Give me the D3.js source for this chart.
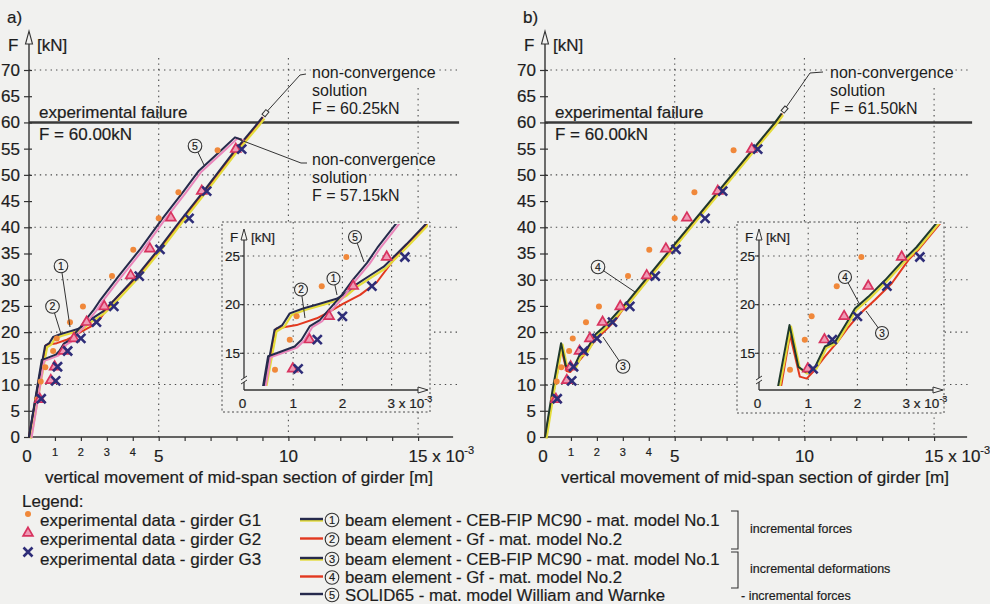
<!DOCTYPE html>
<meta charset="utf-8">
<style>

html, body {
  margin: 0;
  background: #f1f1ef;
}

svg {
  display: block;
  font-family: "Liberation Sans", Arial, sans-serif;
}

text {
  fill: #1d1d1d;
  stroke: #1d1d1d;
  stroke-width: 0.2px;
}

.grid line {
  stroke: #4a4a4a;
  stroke-width: 1.1;
  stroke-dasharray: 1.4,4;
}

.knock {
  paint-order: stroke;
  stroke: #f1f1ef;
  stroke-width: 5px;
  stroke-linejoin: round;
}

</style>
<svg width="990" height="604"></svg>
<script src="https://d3js.org/d3.v7.min.js"></script>
<script>

var bg = '#f1f1ef';
var navy = '#262a4c';
var dkgreen = '#1f3a2c';
var red = '#e2381f';
var yellow = '#e4dc3a';
var pink = '#ea86bb';
var orange = '#f0883a';

// axis values
var yTickVals = [0, 5, 10, 15, 20, 25, 30, 35, 40, 45, 50, 55, 60, 65, 70];
var yGridVals = [10, 20, 30, 40, 50, 70];
var xTickVals = [1, 2, 3, 4, 5, 6, 7, 8, 9, 10, 11, 12, 13, 14, 15];
var xMajorVals = [0, 5, 10];
var xMinorVals = [1, 2, 3, 4];
var xGridVals = [5, 10, 15];
var insetXVals = [1, 2, 3];
var insetYVals = [15, 20, 25];
var failureF = 60;

// experimental data [deflection x 10^-3 m, F kN]
var g1 = [[0.32, 7.2], [0.45, 10.6], [0.63, 13.3], [0.93, 16.4], [1.07, 18.8], [1.58, 21.9],
  [2.08, 24.9], [3.2, 30.7], [4.02, 35.7], [5.0, 41.7], [5.76, 46.7], [7.27, 54.7]];
var g2 = [[0.42, 7.2], [0.84, 10.8], [0.99, 13.4], [1.33, 16.4], [1.73, 18.8], [2.22, 21.9],
  [2.9, 24.9], [3.92, 30.8], [4.66, 35.9], [5.47, 41.8], [6.66, 46.9], [7.97, 54.9]];
var g3 = [[0.47, 7.3], [1.03, 10.7], [1.1, 13.4], [1.49, 16.4], [2.0, 18.8], [2.6, 21.9],
  [3.27, 24.9], [4.25, 30.7], [5.05, 35.8], [6.17, 41.7], [6.85, 46.9], [8.2, 54.9]];

// a) incremental forces
var curve1 = [[0, 0], [0.3, 8.6], [0.62, 17.4], [0.78, 17.9], [0.93, 19.1], [1.2, 19.6], [1.54, 20.1],
  [1.88, 20.6], [2.05, 21.1], [2.26, 22.0], [2.56, 23.0], [2.84, 23.9], [3.3, 26.2], [4.15, 30.7],
  [4.99, 35.8], [5.82, 41.2], [6.72, 46.8], [7.88, 54.3], [8.84, 60.0], [9.0, 61.0]];
var curve2 = [[0, 0], [0.3, 8.4], [0.42, 11.9], [0.66, 17.56], [1.07, 17.9], [1.48, 18.6], [1.75, 19.3],
  [2.02, 20.1], [2.36, 21.0], [2.7, 22.3], [3.04, 24.6], [3.24, 25.85], [4.2, 30.7], [5.05, 35.8],
  [6.76, 46.8], [8.9, 60.2], [9.02, 61.0]];
var curve5 = [[0, 0], [0.25, 7.5], [0.49, 14.7], [0.66, 15.0], [1.03, 15.7], [1.17, 16.4], [1.34, 17.8],
  [1.54, 18.4], [1.78, 19.8], [1.99, 21.0], [2.22, 22.6], [2.5, 24.3], [2.71, 25.85], [3.44, 30.6],
  [4.28, 35.8], [5.15, 41.7], [5.95, 46.8], [6.55, 50.8], [7.43, 54.8], [7.94, 57.15], [8.2, 56.7]];

// b) incremental deformations
var curve3 = [[0, 0], [0.3, 9.2], [0.62, 17.9], [0.8, 13.6], [0.94, 13.1], [1.14, 13.6], [1.34, 15.7],
  [1.55, 16.2], [1.8, 18.3], [1.95, 19.6], [2.22, 20.8], [2.56, 22.5], [2.9, 24.4], [3.2, 25.9],
  [3.97, 30.6], [4.85, 35.9], [5.8, 41.6], [6.75, 47.3], [7.95, 54.5], [8.87, 60.0], [9.12, 61.7]];
var curve4 = [[0, 0], [0.3, 7.8], [0.46, 11.9], [0.63, 16.9], [0.83, 12.6], [0.97, 12.4], [1.1, 13.1],
  [1.34, 14.66], [1.6, 16.2], [1.82, 17.7], [2.02, 18.9], [2.36, 20.5], [2.7, 22.2], [3.04, 24.6],
  [3.25, 25.7], [4.05, 30.6], [4.92, 35.9], [5.85, 41.6], [6.8, 47.3], [8.0, 54.5], [8.9, 60.0], [9.15, 61.7]];

var svg = d3.select('svg');

var panels = [
  {
    letter: 'a)', x0: 29, gridExtra: 39, axisExtra: 35,
    curves: [
      {data: curve2, color: red, w: 2},
      {data: curve1, color: yellow, w: 2.2, dx: 2, dy: 1.5},
      {data: curve1, color: navy, w: 2},
      {data: curve5, color: pink, w: 2, dx: 2.5, dy: 1},
      {data: curve5, color: navy, w: 2}
    ],
    notes: [
      {at: curve1[curve1.length - 1], off: [3, -4], mark: true, path: [[300, 75], [306, 74]], tx: 312, ty: [72, 90, 108],
        lines: ['non-convergence', 'solution', 'F = 60.25kN']},
      {at: curve5[curve5.length - 2], off: [4, 2], mark: false, path: [[301, 163], [307, 163]], tx: 312, ty: [159, 177, 195],
        lines: ['non-convergence', 'solution', 'F = 57.15kN']}
    ],
    tags: [
      {n: '1', c: [61, 266], to: [70, 327]},
      {n: '2', c: [52.5, 306.5], to: [61, 334]},
      {n: '5', c: [195, 146], to: [204, 165]}
    ],
    inset: {
      box: {x: 222, y: 222, w: 208, h: 190}, ix0: 244, tip: 428,
      tags: [
        {n: '5', c: [355, 237], to: [364, 262]},
        {n: '1', c: [333.5, 278.5], to: [337, 295]},
        {n: '2', c: [301, 289.5], to: [305, 318]}
      ]
    }
  },
  {
    letter: 'b)', x0: 545, gridExtra: 36, axisExtra: 33,
    curves: [
      {data: curve4, color: red, w: 2},
      {data: curve3, color: yellow, w: 2.2, dx: 1.5, dy: 1.5},
      {data: curve3, color: dkgreen, w: 2}
    ],
    notes: [
      {at: curve3[curve3.length - 1], off: [3, -4], mark: true, path: [[810, 73], [823, 72]], tx: 830, ty: [72, 90, 108],
        lines: ['non-convergence', 'solution', 'F = 61.50kN']}
    ],
    tags: [
      {n: '4', c: [598, 267], to: [635, 292]},
      {n: '3', c: [623, 366.5], to: [603, 337]}
    ],
    inset: {
      box: {x: 737, y: 222, w: 207, h: 191}, ix0: 759, tip: 943,
      tags: [
        {n: '4', c: [845, 277], to: [860, 305]},
        {n: '3', c: [882, 333], to: [866, 311]}
      ]
    }
  }
];

function drawMarkers (g, x, y, keep) {
  var f = keep || function () { return true; };
  g.append('g').selectAll('circle')
    .data(g1.filter(f))
    .enter().append('circle')
    .attr('cx', function (d) { return x(d[0]); })
    .attr('cy', function (d) { return y(d[1]); })
    .attr('r', 3)
    .attr('fill', orange);
  g.append('g').selectAll('path')
    .data(g2.filter(f))
    .enter().append('path')
    .attr('d', d3.symbol(d3.symbolTriangle).size(42))
    .attr('transform', function (d) { return 'translate(' + x(d[0]) + ',' + y(d[1]) + ')'; })
    .attr('fill', '#ef9ab5')
    .attr('stroke', '#d8335f')
    .attr('stroke-width', 1.7);
  g.append('g').selectAll('path')
    .data(g3.filter(f))
    .enter().append('path')
    .attr('d', 'M-4.5,-4.5L4.5,4.5M-4.5,4.5L4.5,-4.5')
    .attr('transform', function (d) { return 'translate(' + x(d[0]) + ',' + y(d[1]) + ')'; })
    .attr('stroke', '#2e2d78')
    .attr('stroke-width', 2.6);
}

function drawCurves (g, x, y, curves) {
  var line = d3.line()
    .x(function (d) { return x(d[0]); })
    .y(function (d) { return y(d[1]); });
  curves.forEach(function (c) {
    g.append('path')
      .attr('d', line(c.data))
      .attr('fill', 'none')
      .attr('stroke', c.color)
      .attr('stroke-width', c.w)
      .attr('stroke-linejoin', 'round')
      .attr('transform', c.dx ? 'translate(' + c.dx + ',' + c.dy + ')' : null);
  });
}

function drawTag (g, t, r, fs) {
  g.append('line')
    .attr('x1', t.c[0]).attr('y1', t.c[1])
    .attr('x2', t.to[0]).attr('y2', t.to[1])
    .attr('stroke', '#333').attr('stroke-width', 1);
  drawCircled(g, t.c[0], t.c[1], t.n, r, fs);
}

function drawCircled (g, cx, cy, n, r, fs) {
  g.append('circle')
    .attr('cx', cx).attr('cy', cy).attr('r', r)
    .attr('fill', bg).attr('stroke', '#333').attr('stroke-width', 1.1);
  g.append('text')
    .attr('x', cx).attr('y', cy).attr('dy', '0.36em')
    .attr('text-anchor', 'middle')
    .attr('font-size', fs)
    .text(n);
}

function drawMain (p) {
  var x = d3.scaleLinear().domain([0, 15]).range([p.x0, p.x0 + 389.1]);
  var y = d3.scaleLinear().domain([0, 70]).range([437, 70]);
  var g = svg.append('g');

  g.append('g').attr('class', 'grid').selectAll('line')
    .data(yGridVals)
    .enter().append('line')
    .attr('x1', x(0)).attr('x2', x(15) + p.gridExtra)
    .attr('y1', function (d) { return y(d); })
    .attr('y2', function (d) { return y(d); });

  g.append('g').attr('class', 'grid').selectAll('line')
    .data(xGridVals)
    .enter().append('line')
    .attr('x1', function (d) { return x(d); })
    .attr('x2', function (d) { return x(d); })
    .attr('y1', function (d) { return d === 15 ? 88 : 58; })
    .attr('y2', y(0));

  g.append('line')
    .attr('x1', x(0)).attr('x2', x(15) + p.gridExtra + 2)
    .attr('y1', y(failureF)).attr('y2', y(failureF))
    .attr('stroke', '#3a3a3a').attr('stroke-width', 2.6);

  // y axis
  var ya = g.append('g')
    .attr('transform', 'translate(' + x(0) + ',0)')
    .attr('color', '#1d1d1d')
    .call(d3.axisLeft(y).tickValues(yTickVals).tickSize(5).tickPadding(4));
  ya.attr('font-size', 17).attr('font-family', null);
  ya.select('.domain').remove();
  ya.selectAll('.tick line').attr('x1', 3).attr('stroke', '#333').attr('stroke-width', 1.2);

  g.append('line')
    .attr('x1', x(0)).attr('x2', x(0))
    .attr('y1', y(0)).attr('y2', 44)
    .attr('stroke', '#333').attr('stroke-width', 1.4);
  g.append('path')
    .attr('d', 'M' + (x(0) - 3.5) + ',44L' + x(0) + ',31L' + (x(0) + 3.5) + ',44Z')
    .attr('fill', bg).attr('stroke', '#333').attr('stroke-width', 1.1);

  // x axis
  var xa = g.append('g')
    .attr('transform', 'translate(0,' + y(0) + ')')
    .call(d3.axisBottom(x).tickValues(xTickVals).tickSize(4).tickFormat(''));
  xa.select('.domain').remove();
  xa.selectAll('.tick line').attr('stroke', '#333').attr('stroke-width', 1.2);
  g.append('line')
    .attr('x1', x(0)).attr('x2', x(15) + p.axisExtra)
    .attr('y1', y(0)).attr('y2', y(0))
    .attr('stroke', '#333').attr('stroke-width', 1.4);

  g.append('g').selectAll('text')
    .data(xMajorVals)
    .enter().append('text')
    .attr('x', function (d) { return x(d) + (d === 0 ? -2 : 0); })
    .attr('y', 456).attr('dy', '0.35em')
    .attr('text-anchor', 'middle')
    .attr('font-size', 17)
    .text(function (d) { return d; });
  g.append('g').selectAll('text')
    .data(xMinorVals)
    .enter().append('text')
    .attr('x', function (d) { return x(d); })
    .attr('y', 452).attr('dy', '0.35em')
    .attr('text-anchor', 'middle')
    .attr('font-size', 11)
    .text(function (d) { return d; });
  var t15 = g.append('text')
    .attr('x', x(15) - 9.5).attr('y', 456).attr('dy', '0.35em')
    .attr('font-size', 17);
  t15.append('tspan').text('15 x 10');
  t15.append('tspan').attr('font-size', 11).attr('dy', -8).text('-3');

  g.append('text')
    .attr('x', x(0) + 16).attr('y', 477).attr('dy', '0.35em')
    .attr('font-size', 17)
    .attr('textLength', 388).attr('lengthAdjust', 'spacingAndGlyphs')
    .text('vertical movement of mid-span section of girder [m]');

  // axis titles
  g.append('text').attr('x', x(0) - 22).attr('y', 17).attr('dy', '0.35em').attr('font-size', 17).text(p.letter);
  g.append('text').attr('x', x(0) - 21).attr('y', 45).attr('dy', '0.35em').attr('font-size', 17).text('F');
  g.append('text').attr('x', x(0) + 8).attr('y', 45).attr('dy', '0.35em').attr('font-size', 17).text('[kN]');

  g.append('text').attr('x', x(0) + 10).attr('y', 112).attr('dy', '0.35em').attr('font-size', 17)
    .text('experimental failure');
  g.append('text').attr('x', x(0) + 10).attr('y', 134).attr('dy', '0.35em').attr('font-size', 17)
    .text('F = 60.00kN');

  drawCurves(g, x, y, p.curves);
  drawMarkers(g, x, y);

  // non-convergence notes
  p.notes.forEach(function (n) {
    var sx = x(n.at[0]) + n.off[0];
    var sy = y(n.at[1]) + n.off[1];
    var pts = [[sx, sy]].concat(n.path);
    g.append('path')
      .attr('d', d3.line()(pts))
      .attr('fill', 'none').attr('stroke', '#333').attr('stroke-width', 1);
    if (n.mark) {
      g.append('rect')
        .attr('x', -3).attr('y', -2).attr('width', 6).attr('height', 4)
        .attr('transform', 'translate(' + sx + ',' + sy + ') rotate(-50)')
        .attr('fill', bg).attr('stroke', '#333').attr('stroke-width', 1);
    }
    n.lines.forEach(function (s, i) {
      g.append('text')
        .attr('class', 'knock')
        .attr('x', n.tx).attr('y', n.ty[i]).attr('dy', '0.35em')
        .attr('font-size', 16)
        .text(s);
    });
  });

  p.tags.forEach(function (t) { drawTag(g, t, 6.8, 10.5); });

  drawInset(p, p.inset);
}

function drawInset (p, s) {
  var b = s.box;
  var x = d3.scaleLinear().domain([0, 3]).range([s.ix0, s.ix0 + 147.6]);
  var y = d3.scaleLinear().domain([15, 25]).range([353.3, 256]);
  var axisY = 390;
  var g = svg.append('g');

  g.append('rect')
    .attr('x', b.x).attr('y', b.y).attr('width', b.w).attr('height', b.h)
    .attr('fill', bg).attr('stroke', '#4a4a4a').attr('stroke-width', 1)
    .attr('stroke-dasharray', '2,2.5');

  g.append('g').attr('class', 'grid').selectAll('line')
    .data(insetYVals)
    .enter().append('line')
    .attr('x1', x(0) - 2).attr('x2', b.x + b.w)
    .attr('y1', function (d) { return y(d); })
    .attr('y2', function (d) { return y(d); });
  g.append('g').attr('class', 'grid').selectAll('line')
    .data(insetXVals)
    .enter().append('line')
    .attr('x1', function (d) { return x(d); })
    .attr('x2', function (d) { return x(d); })
    .attr('y1', b.y).attr('y2', axisY);

  // axes
  g.append('line')
    .attr('x1', x(0)).attr('x2', x(0)).attr('y1', axisY).attr('y2', 240)
    .attr('stroke', '#333').attr('stroke-width', 1.3);
  g.append('path')
    .attr('d', 'M' + (x(0) - 3) + ',240L' + x(0) + ',229L' + (x(0) + 3) + ',240Z')
    .attr('fill', bg).attr('stroke', '#333').attr('stroke-width', 1);
  g.append('line')
    .attr('x1', x(0)).attr('x2', s.tip - 10).attr('y1', axisY).attr('y2', axisY)
    .attr('stroke', '#333').attr('stroke-width', 1.3);
  g.append('path')
    .attr('d', 'M' + (s.tip - 10) + ',' + (axisY - 3) + 'L' + s.tip + ',' + axisY + 'L' + (s.tip - 10) + ',' + (axisY + 3) + 'Z')
    .attr('fill', bg).attr('stroke', '#333').attr('stroke-width', 1);
  g.selectAll('.ytk')
    .data(insetYVals)
    .enter().append('line')
    .attr('x1', x(0) - 4).attr('x2', x(0))
    .attr('y1', function (d) { return y(d); })
    .attr('y2', function (d) { return y(d); })
    .attr('stroke', '#333').attr('stroke-width', 1.1);

  // axis break
  g.append('rect').attr('x', x(0) - 2).attr('y', 378).attr('width', 4).attr('height', 4).attr('fill', bg);
  g.append('path')
    .attr('d', 'M' + (x(0) - 3) + ',380L' + (x(0) + 3) + ',376M' + (x(0) - 3) + ',384L' + (x(0) + 3) + ',380')
    .attr('stroke', '#333').attr('stroke-width', 1);

  // labels
  g.selectAll('.yl')
    .data(insetYVals)
    .enter().append('text')
    .attr('x', x(0) - 4).attr('y', function (d) { return y(d); }).attr('dy', '0.35em')
    .attr('text-anchor', 'end').attr('font-size', 13.5)
    .text(function (d) { return d; });
  g.selectAll('.xl')
    .data([0, 1, 2])
    .enter().append('text')
    .attr('x', function (d) { return x(d) - (d === 0 ? 1.5 : 0); })
    .attr('y', 403).attr('dy', '0.35em')
    .attr('text-anchor', 'middle').attr('font-size', 13.5)
    .text(function (d) { return d; });
  var t3 = g.append('text')
    .attr('x', x(3) - 4).attr('y', 403).attr('dy', '0.35em')
    .attr('font-size', 13.5);
  t3.append('tspan').text('3 x 10');
  t3.append('tspan').attr('font-size', 9).attr('dy', -6).text('-3');
  g.append('text').attr('x', x(0) - 14).attr('y', 237).attr('dy', '0.35em').attr('font-size', 13.5).text('F');
  g.append('text').attr('x', x(0) + 7).attr('y', 237).attr('dy', '0.35em').attr('font-size', 13.5).text('[kN]');

  // clipped curves
  var clipId = 'clip' + b.x;
  g.append('clipPath').attr('id', clipId)
    .append('rect')
    .attr('x', x(0) + 1).attr('y', b.y + 2)
    .attr('width', b.x + b.w - x(0) - 3).attr('height', 384 - b.y);
  var cg = g.append('g').attr('clip-path', 'url(#' + clipId + ')');
  drawCurves(cg, x, y, p.curves);
  drawMarkers(cg, x, y, function (d) { return d[1] > 11.5 && d[1] < 26; });

  s.tags.forEach(function (t) { drawTag(g, t, 6.5, 10); });
}

panels.forEach(drawMain);

// legend
var legendExp = ['experimental data - girder G1', 'experimental data - girder G2', 'experimental data - girder G3'];
var legendModels = [
  {n: '1', text: 'beam element - CEB-FIP MC90 - mat. model No.1', colors: [yellow, navy]},
  {n: '2', text: 'beam element - Gf - mat. model No.2', colors: [red]},
  {n: '3', text: 'beam element - CEB-FIP MC90 - mat. model No.1', colors: [yellow, navy]},
  {n: '4', text: 'beam element - Gf - mat. model No.2', colors: [red]},
  {n: '5', text: 'SOLID65 - mat. model William and Warnke', colors: [navy]}
];
var legendGroups = ['incremental forces', 'incremental deformations', '- incremental forces'];

var lg = svg.append('g');
lg.append('text').attr('x', 22).attr('y', 501).attr('dy', '0.35em').attr('font-size', 17).text('Legend:');
var expY = [520, 539.5, 559];
lg.selectAll('.le')
  .data(legendExp)
  .enter().append('text')
  .attr('x', 40).attr('y', function (d, i) { return expY[i]; }).attr('dy', '0.35em')
  .attr('font-size', 17)
  .text(function (d) { return d; });
lg.append('circle').attr('cx', 28).attr('cy', 514).attr('r', 3).attr('fill', orange);
lg.append('path').attr('d', d3.symbol(d3.symbolTriangle).size(42))
  .attr('transform', 'translate(28,533)')
  .attr('fill', '#ef9ab5').attr('stroke', '#d8335f').attr('stroke-width', 1.7);
lg.append('path').attr('d', 'M-4.5,-4.5L4.5,4.5M-4.5,4.5L4.5,-4.5')
  .attr('transform', 'translate(28,552)')
  .attr('stroke', '#2e2d78').attr('stroke-width', 2.6);

var modY = [520, 539.5, 559, 577.5, 595];
legendModels.forEach(function (m, i) {
  var cy = modY[i];
  m.colors.forEach(function (c, k) {
    lg.append('line')
      .attr('x1', 300).attr('x2', 323)
      .attr('y1', cy - 1 + (m.colors.length > 1 && k === 0 ? 1.5 : 0))
      .attr('y2', cy - 1 + (m.colors.length > 1 && k === 0 ? 1.5 : 0))
      .attr('stroke', c).attr('stroke-width', 2.4);
  });
  drawCircled(lg, 332, cy, m.n, 6.8, 11);
  lg.append('text').attr('x', 345).attr('y', cy).attr('dy', '0.35em').attr('font-size', 16.8).text(m.text);
});

lg.append('path').attr('d', 'M731,511H738V549H731').attr('fill', 'none').attr('stroke', '#333').attr('stroke-width', 1.1);
lg.append('path').attr('d', 'M731,552H738V588H731').attr('fill', 'none').attr('stroke', '#333').attr('stroke-width', 1.1);
var grpX = [750, 750, 741];
var grpY = [529, 569, 596];
lg.selectAll('.lgrp')
  .data(legendGroups)
  .enter().append('text')
  .attr('x', function (d, i) { return grpX[i]; })
  .attr('y', function (d, i) { return grpY[i]; })
  .attr('dy', '0.35em')
  .attr('font-size', 12.5)
  .text(function (d) { return d; });

</script>
